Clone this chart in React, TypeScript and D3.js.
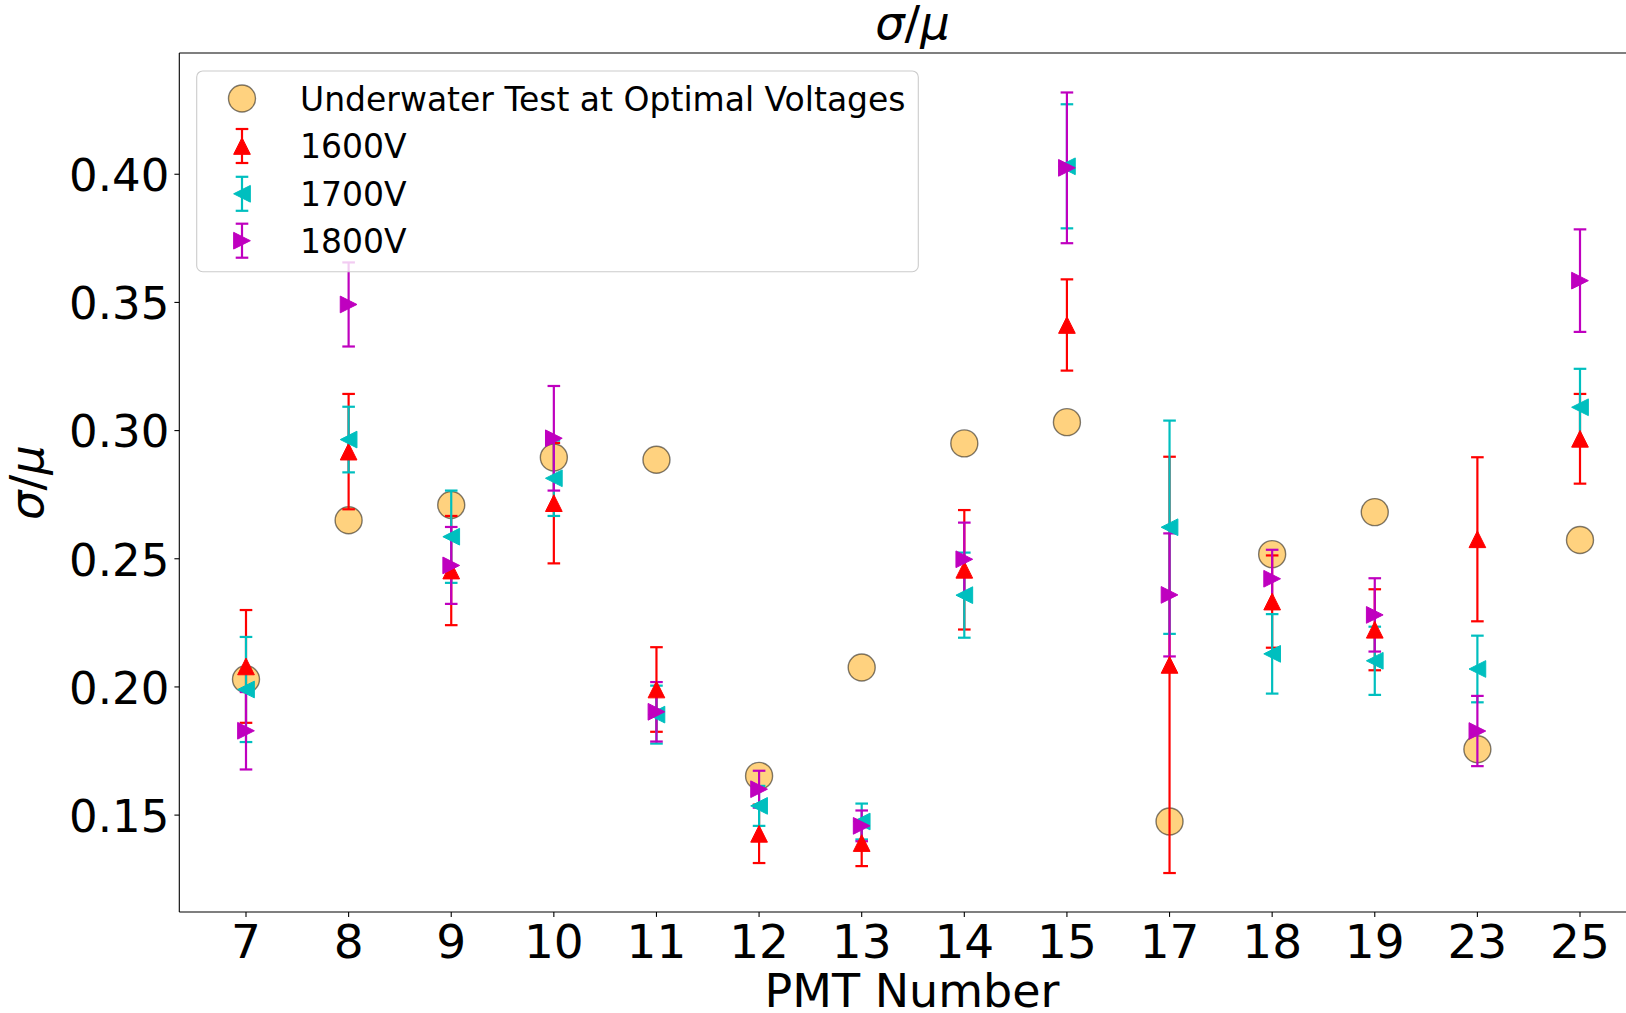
import React from "react";
import * as d3 from "d3";

const pmts = ["7", "8", "9", "10", "11", "12", "13", "14", "15", "17", "18", "19", "23", "25"];

const underwater = [0.203, 0.265, 0.271, 0.2895, 0.2886, 0.1653, 0.2076, 0.295, 0.3033, 0.1475, 0.2518, 0.2682, 0.1757, 0.2573];

const v1600 = [0.208, 0.2918, 0.2454, 0.2717, 0.199, 0.1427, 0.1391, 0.2457, 0.3412, 0.2086, 0.2333, 0.2223, 0.2576, 0.2968];
const e1600 = [0.022, 0.0225, 0.0213, 0.0235, 0.0165, 0.0114, 0.009, 0.0233, 0.0178, 0.0812, 0.018, 0.0158, 0.032, 0.0175];

const v1700 = [0.199, 0.2965, 0.2586, 0.2814, 0.1892, 0.1536, 0.1475, 0.2358, 0.4031, 0.2623, 0.2129, 0.2102, 0.207, 0.3091];
const e1700 = [0.0205, 0.0128, 0.018, 0.0147, 0.0113, 0.0078, 0.007, 0.0166, 0.0242, 0.0416, 0.0155, 0.0133, 0.013, 0.015];

const v1800 = [0.1829, 0.3492, 0.2474, 0.297, 0.1903, 0.1601, 0.1458, 0.2498, 0.4025, 0.2359, 0.2422, 0.2281, 0.1828, 0.3585];
const e1800 = [0.0151, 0.0164, 0.015, 0.0204, 0.0116, 0.0072, 0.006, 0.0143, 0.0294, 0.024, 0.0113, 0.0143, 0.0137, 0.02];

const yTicks = [0.15, 0.2, 0.25, 0.3, 0.35, 0.4];

const seriesLabels = ["1600V", "1700V", "1800V"];
const seriesColors = ["#ff0000", "#00bfbf", "#bf00bf"];
const seriesShapes = ["up", "left", "right"];
const seriesValues = [v1600, v1700, v1800];
const seriesErrors = [e1600, e1700, e1800];

const W = 1626;
const H = 1013;
const left = 179.3;
const right = 1646.7;
const top = 53;
const bottom = 912;

const FONT = "DejaVu Sans";

function triPath(shape: string, s: number) {
  const h = s / 2;
  if (shape === "up") return `M0,${-h}L${-h},${h}L${h},${h}Z`;
  if (shape === "left") return `M${-h},0L${h},${-h}L${h},${h}Z`;
  return `M${h},0L${-h},${-h}L${-h},${h}Z`;
}

export default function App() {
  const x = d3.scalePoint<string>().domain(pmts).range([left, right]).padding(0.65);
  const y = d3.scaleLinear().domain([0.1122, 0.4473]).range([bottom, top]);
  const ms = 16.7;
  const cap = 6.3;
  const lw = 2.2;
  const fmt = d3.format(".2f");

  const legendRows = [98.5, 146, 193.8, 240.7];

  return (
    <svg
      width={W}
      height={H}
      style={{ position: "absolute", left: 0, top: 0, background: "#fff" }}
      fontFamily={FONT}
    >
      <rect x={0} y={0} width={W} height={H} fill="#fff" />
      {/* title */}
      <text x={912.5} y={39} fontSize={46.5} textAnchor="middle" fill="#000">
        <tspan fontStyle="italic">σ</tspan>/<tspan fontStyle="italic">μ</tspan>
      </text>

      {/* underwater circles */}
      <g>
        {pmts.map((p, i) => (
          <circle
            key={"c" + p}
            cx={x(p)}
            cy={y(underwater[i])}
            r={13.5}
            fill="#ffa500"
            fillOpacity={0.5}
            stroke="#000"
            strokeOpacity={0.5}
            strokeWidth={1.4}
          />
        ))}
      </g>

      {/* error bars */}
      {seriesValues.map((vals, si) => (
        <g key={"eb" + si} stroke={seriesColors[si]} strokeWidth={lw}>
          {pmts.map((p, i) => {
            const cx = x(p) as number;
            const y1 = y(vals[i] + seriesErrors[si][i]);
            const y0 = y(vals[i] - seriesErrors[si][i]);
            return (
              <g key={p}>
                <line x1={cx} x2={cx} y1={y1} y2={y0} />
                <line x1={cx - cap} x2={cx + cap} y1={y1} y2={y1} />
                <line x1={cx - cap} x2={cx + cap} y1={y0} y2={y0} />
              </g>
            );
          })}
        </g>
      ))}

      {/* markers */}
      {seriesValues.map((vals, si) => (
        <g key={"mk" + si} fill={seriesColors[si]} stroke={seriesColors[si]} strokeWidth={1}>
          {pmts.map((p, i) => (
            <path
              key={p}
              d={triPath(seriesShapes[si], ms)}
              transform={`translate(${x(p)},${y(vals[i])})`}
            />
          ))}
        </g>
      ))}

      {/* spines */}
      <g stroke="#000" strokeWidth={1.1} fill="none">
        <line x1={left} x2={left} y1={top} y2={bottom} />
        <line x1={left} x2={W + 50} y1={bottom} y2={bottom} />
        <line x1={left} x2={W + 50} y1={top} y2={top} />
        <line x1={right} x2={right} y1={top} y2={bottom} />
      </g>

      {/* y ticks */}
      <g>
        {yTicks.map((t) => (
          <g key={"yt" + t}>
            <line x1={left - 4.9} x2={left} y1={y(t)} y2={y(t)} stroke="#000" strokeWidth={1.1} />
            <text x={left - 10} y={y(t) + 16.8} fontSize={45} textAnchor="end" fill="#000">
              {fmt(t)}
            </text>
          </g>
        ))}
      </g>

      {/* x ticks */}
      <g>
        {pmts.map((p) => (
          <g key={"xt" + p}>
            <line x1={x(p)} x2={x(p)} y1={bottom} y2={bottom + 4.9} stroke="#000" strokeWidth={1.1} />
            <text x={x(p)} y={958.3} fontSize={47} textAnchor="middle" fill="#000">
              {p}
            </text>
          </g>
        ))}
      </g>

      {/* axis labels */}
      <text x={912} y={1007} fontSize={46} textAnchor="middle" fill="#000">
        PMT Number
      </text>
      <text
        transform={`translate(43,${(top + bottom) / 2}) rotate(-90)`}
        fontSize={46.5}
        textAnchor="middle"
        fill="#000"
      >
        <tspan fontStyle="italic">σ</tspan>/<tspan fontStyle="italic">μ</tspan>
      </text>

      {/* legend */}
      <g>
        <rect
          x={196.7}
          y={71}
          width={721.6}
          height={200.7}
          rx={6}
          fill="#fff"
          fillOpacity={0.8}
          stroke="#cccccc"
          strokeWidth={1.1}
        />
        <circle
          cx={242}
          cy={legendRows[0]}
          r={13.5}
          fill="#ffa500"
          fillOpacity={0.5}
          stroke="#000"
          strokeOpacity={0.5}
          strokeWidth={1.4}
        />
        <text x={300} y={legendRows[0] + 12} fontSize={33} fill="#000">
          Underwater Test at Optimal Voltages
        </text>
        {seriesLabels.map((lab, si) => {
          const cy = legendRows[si + 1];
          return (
            <g key={"lg" + si}>
              <g stroke={seriesColors[si]} strokeWidth={lw}>
                <line x1={242} x2={242} y1={cy - 17} y2={cy + 17} />
                <line x1={242 - cap} x2={242 + cap} y1={cy - 17} y2={cy - 17} />
                <line x1={242 - cap} x2={242 + cap} y1={cy + 17} y2={cy + 17} />
              </g>
              <path
                d={triPath(seriesShapes[si], ms)}
                transform={`translate(242,${cy})`}
                fill={seriesColors[si]}
                stroke={seriesColors[si]}
                strokeWidth={1}
              />
              <text x={300} y={cy + 12} fontSize={33} fill="#000">
                {lab}
              </text>
            </g>
          );
        })}
      </g>
    </svg>
  );
}
